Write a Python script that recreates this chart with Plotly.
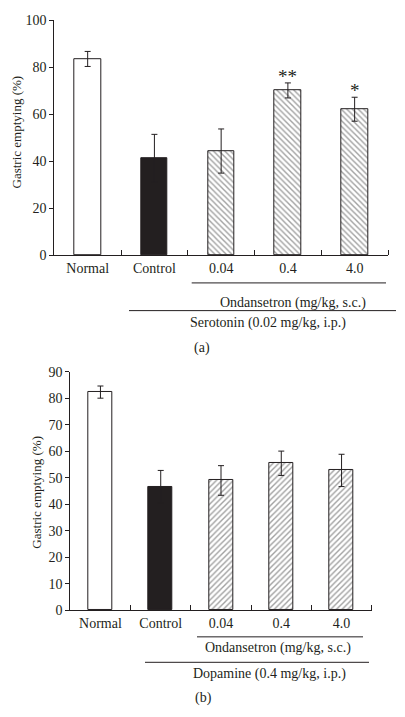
import plotly.graph_objects as go

categories = ["Normal", "Control", "0.04", "0.4", "4.0"]
values_a = [83.5, 41.2, 44.3, 70.1, 62.1]
errors_a = [3.2, 10.2, 9.4, 3.2, 5.1]
stars_a = ["", "", "", "**", "*"]
values_b = [82.4, 46.7, 49.0, 55.5, 52.8]
errors_b = [2.3, 6.1, 5.6, 4.6, 6.1]
yticks_a = [0, 20, 40, 60, 80, 100]
yticks_b = [0, 10, 20, 30, 40, 50, 60, 70, 80, 90]

# page body has an 8px default margin; size the figure to fit the window
OFF = 8
W, H = 405 - OFF, 717 - OFF
FONT = "Liberation Serif"
INK = "#231f20"
FS = 14

def px_x(p):
    return (p - OFF) / W

def px_y(p):
    return 1 - (p - OFF) / H

xpos = list(range(len(categories)))
fig = go.Figure()

def add_panel(vals, errs, xa, ya, hatch):
    fills = ["white", INK, "white", "white", "white"]
    shapes = ["", "", hatch, hatch, hatch]
    fig.add_trace(go.Bar(
        x=xpos, y=vals, xaxis=xa, yaxis=ya, width=0.4,
        marker=dict(color=fills, line=dict(color=INK, width=1),
                    pattern=dict(shape=shapes, fgcolor=INK, bgcolor="white",
                                 size=4, solidity=0.35, fillmode="overlay")),
        error_y=dict(type="data", array=errs, visible=True, color=INK,
                     thickness=1, width=3),
        showlegend=False, hoverinfo="skip"))

add_panel(values_a, errors_a, "x", "y", "\\")
add_panel(values_b, errors_b, "x2", "y2", "/")

minor = dict(tickvals=[i + 0.5 for i in xpos], ticks="inside", ticklen=5,
             tickcolor=INK, tickwidth=1)
xcommon = dict(range=[-0.5, 4.5], tickvals=xpos, ticktext=categories, ticks="",
               showline=True, linecolor=INK, linewidth=1, showgrid=False,
               zeroline=False, tickfont=dict(family=FONT, size=FS, color=INK),
               minor=minor, fixedrange=True)
ycommon = dict(showline=True, linecolor=INK, linewidth=1, showgrid=False,
               zeroline=False, ticks="outside", ticklen=4, tickcolor=INK,
               tickfont=dict(family=FONT, size=FS, color=INK))

fig.update_layout(
    width=W, height=H, margin=dict(l=0, r=0, t=0, b=0),
    paper_bgcolor="white", plot_bgcolor="white", bargap=0,
    xaxis=dict(domain=[px_x(54.3), px_x(388)], anchor="y", **xcommon),
    yaxis=dict(domain=[px_y(253.3), px_y(13.3)], anchor="x", range=[0, 100],
               tickvals=yticks_a, **ycommon),
    xaxis2=dict(domain=[px_x(70.3), px_x(371.7)], anchor="y2", **xcommon),
    yaxis2=dict(domain=[px_y(616), px_y(372.7)], anchor="x2", range=[0, 90],
                tickvals=yticks_b, **ycommon),
)

ann = []
for i, s in enumerate(stars_a):
    if s:
        ann.append(dict(x=xpos[i], y=values_a[i] + errors_a[i], xref="x", yref="y",
                        text=s, showarrow=False, yanchor="bottom", yshift=-6,
                        font=dict(family=FONT, size=19, color=INK)))

def ptext(x, y, t, size=FS, xanchor="center", angle=0):
    ann.append(dict(x=px_x(x), y=px_y(y), xref="paper", yref="paper", text=t,
                    showarrow=False, xanchor=xanchor, yanchor="middle",
                    textangle=angle, font=dict(family=FONT, size=size, color=INK)))

ptext(16, 128, "Gastric emptying (%)", size=13, angle=-90)
ptext(37, 496, "Gastric emptying (%)", size=13, angle=-90)
ptext(293, 302.7, "Ondansetron (mg/kg, s.c.)")
ptext(188, 322.7, "Serotonin (0.02 mg/kg, i.p.)", xanchor="left")
ptext(202, 348, "(a)")
ptext(277.7, 654.3, "Ondansetron (mg/kg, s.c.)")
ptext(269, 681, "Dopamine (0.4 mg/kg, i.p.)")
ptext(203, 706, "(b)")

def hline(x0, x1, y):
    fig.add_shape(type="line", xref="paper", yref="paper", x0=px_x(x0), x1=px_x(x1),
                  y0=px_y(y), y1=px_y(y), line=dict(color=INK, width=1))

hline(191.7, 386, 281.7)
hline(129, 396, 310)
hline(197, 363, 643.3)
hline(145, 369, 669.3)

fig.update_layout(annotations=ann)
fig.write_html("out.html")
